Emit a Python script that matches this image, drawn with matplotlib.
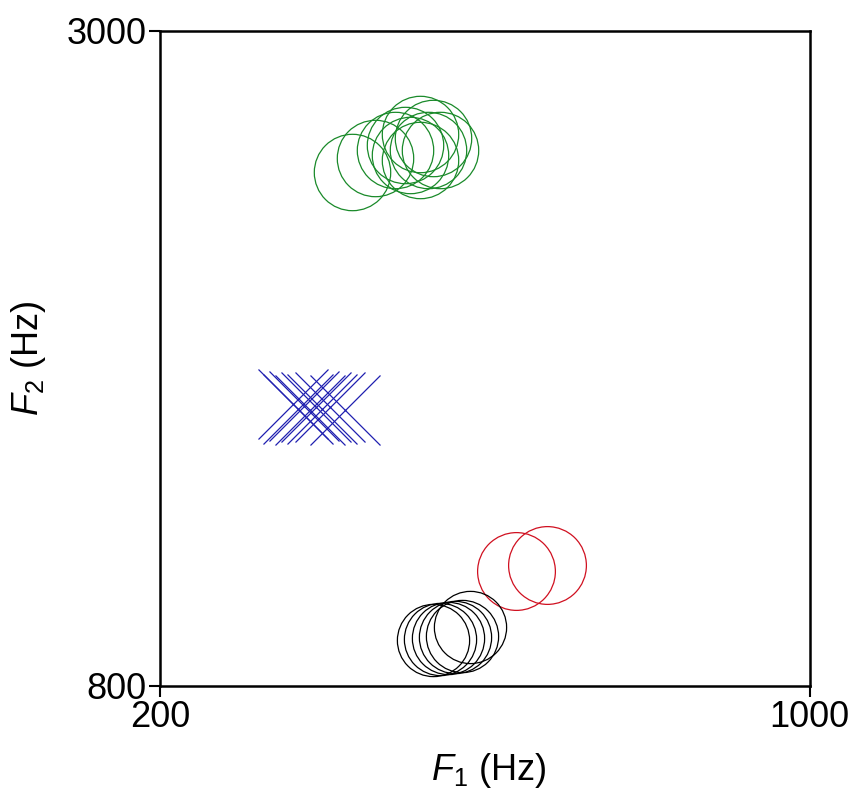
import matplotlib
matplotlib.use("Agg")
import matplotlib.pyplot as plt

plt.rcParams['font.family'] = ['Liberation Sans', 'DejaVu Sans']
plt.rcParams['mathtext.fontset'] = 'custom'
plt.rcParams['mathtext.it'] = 'Liberation Sans:italic'
plt.rcParams['mathtext.rm'] = 'Liberation Sans'

# formant values (Hz)
green_f1 = [436, 465, 489, 502, 520, 530, 545, 520, 508, 536]
green_f2 = [2526, 2574, 2600, 2617, 2655, 2600, 2600, 2567, 2584, 2640]

blue_f1 = [364, 370, 377, 385, 392, 399, 409, 428]
blue_f2 = [1745, 1730, 1740, 1725, 1738, 1730, 1735, 1728]

red_f1 = [638, 676]
red_f2 = [1186, 1206]

black_f1 = [536, 545, 554, 563, 572, 582]
black_f2 = [955, 958, 961, 965, 968, 998]

fig = plt.figure(figsize=(8.56, 7.91), dpi=100)
ax = fig.add_axes([0.187, 0.133, 0.759, 0.828])

ax.plot(green_f1, green_f2, 'o', ms=55, mfc='none', mec='#1a8a2a', mew=0.9)
ax.plot(blue_f1, blue_f2, 'x', ms=50, mec='#2020b0', mew=0.9)
ax.plot(red_f1, red_f2, 'o', ms=56, mfc='none', mec='#d01020', mew=0.9)
ax.plot(black_f1, black_f2, 'o', ms=52, mfc='none', mec='black', mew=0.9)

ax.set_xlim(200, 1000)
ax.set_ylim(800, 3000)
ax.set_xticks([200, 1000])
ax.set_yticks([800, 3000])
ax.tick_params(direction='out', length=8, width=1.5, labelsize=26, pad=2)
for s in ax.spines.values():
    s.set_linewidth(1.8)

ax.set_xlabel('$F_1$ (Hz)', fontsize=26)
ax.set_ylabel('$F_2$ (Hz)', fontsize=26)
ax.xaxis.set_label_coords(0.505, -0.1)
ax.yaxis.set_label_coords(-0.172, 0.5)

fig.savefig('out.png', dpi=100)
